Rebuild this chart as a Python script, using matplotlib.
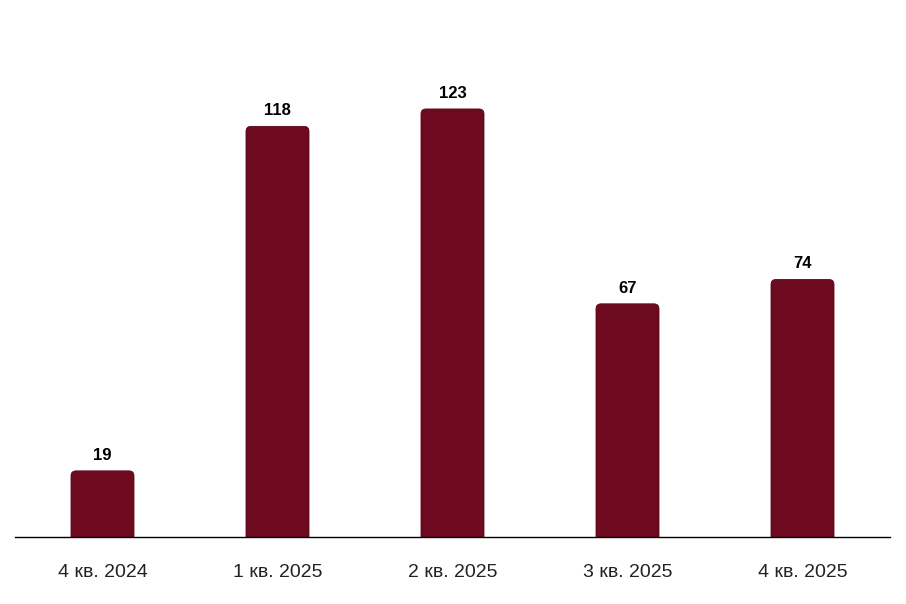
import matplotlib
matplotlib.use("Agg")
import matplotlib.pyplot as plt
from matplotlib.patches import FancyBboxPatch

categories = ["4 кв. 2024", "1 кв. 2025", "2 кв. 2025", "3 кв. 2025", "4 кв. 2025"]
values = [19, 118, 123, 67, 74]

plt.rcParams['font.family'] = ['Liberation Sans', 'DejaVu Sans']
color = "#6E0A1F"

fig = plt.figure(figsize=(9.06, 6.04), dpi=100)
ax = fig.add_axes([15/906, 67/604, 875/906, (537-30)/604])
ylim_top = 507/3.48
ax.set_xlim(-0.5, len(categories) - 0.5)
ax.set_ylim(0, ylim_top)

width = 0.36
bars = ax.bar(range(len(categories)), values, width=width, color=color, alpha=0)
px_x = 875 / len(categories)
px_y = 507 / ylim_top
r = 5
for b in bars:
    x0, w, h = b.get_x(), b.get_width(), b.get_height()
    p = FancyBboxPatch((x0, -10), w, h + 10,
                       boxstyle=f"round,pad=0,rounding_size={r/px_x}",
                       mutation_aspect=px_x/px_y,
                       facecolor=color, edgecolor="#5a0818", linewidth=0.6, clip_on=True)
    ax.add_patch(p)
    ax.annotate(str(int(h)),
                (b.get_x() + w/2, h), xytext=(0, 6), textcoords="offset points",
                ha="center", va="bottom", fontsize=12, fontweight="bold", color="black")

ax.set_xticks(range(len(categories)))
ax.set_xticklabels(categories, fontsize=14, color="#222222")
ax.tick_params(axis="x", length=0, pad=19.5)
ax.set_yticks([])
for s in ["top", "right", "left"]:
    ax.spines[s].set_visible(False)
ax.spines["bottom"].set_color("black")
ax.spines["bottom"].set_linewidth(1.0)

fig.savefig("out.png", dpi=100)
